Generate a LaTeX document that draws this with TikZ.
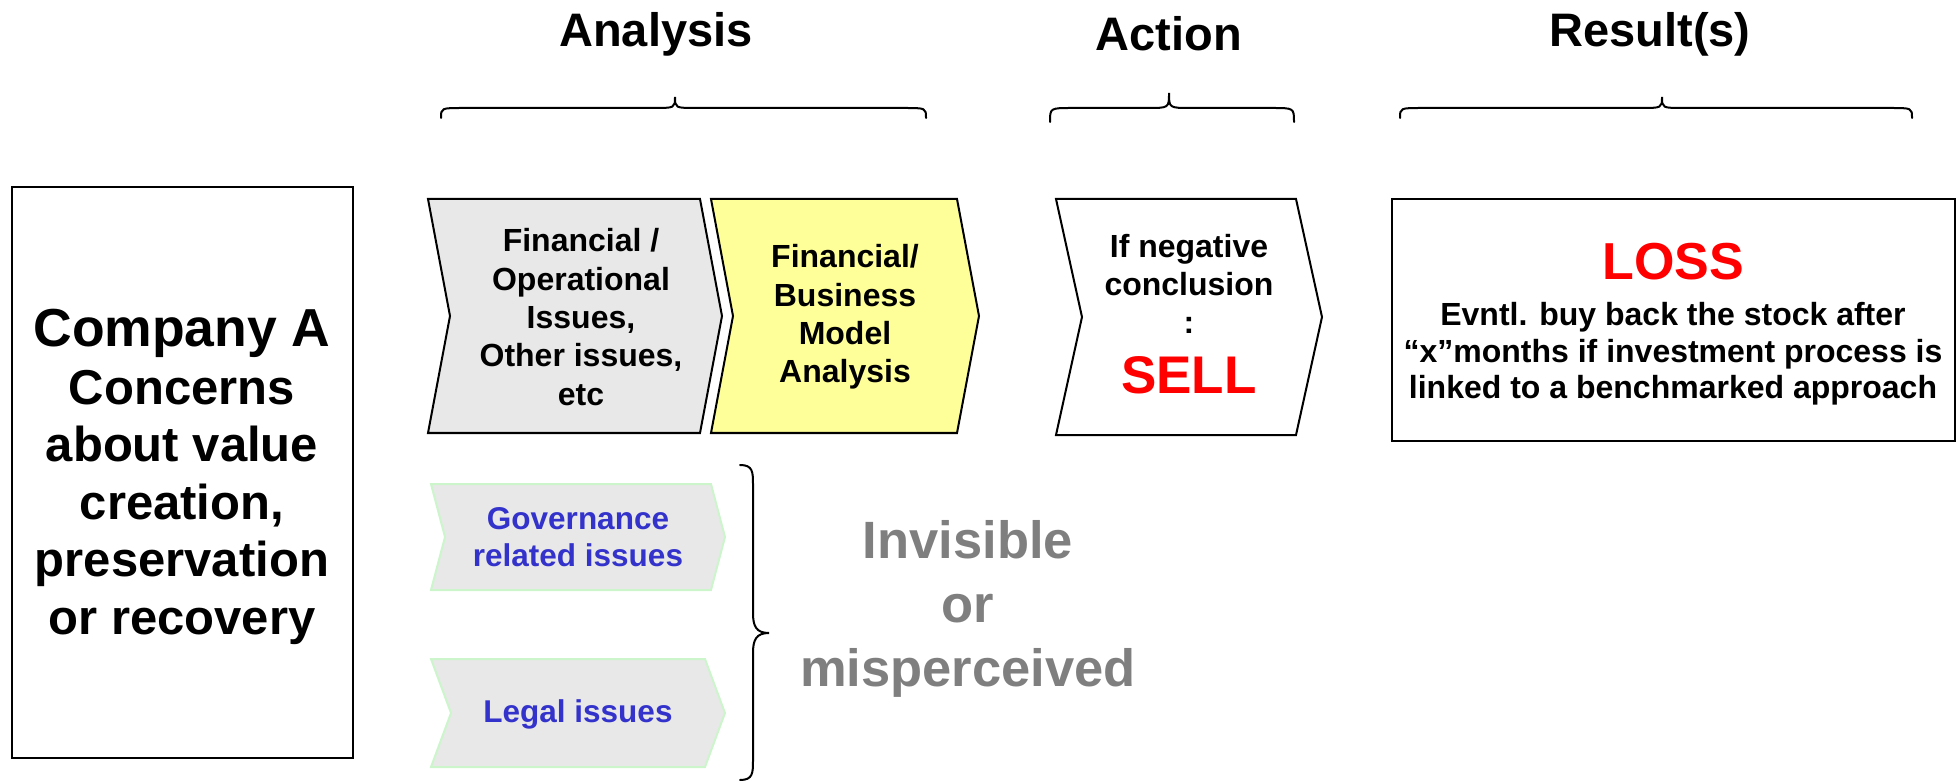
\documentclass[tikz,border=0pt]{standalone}
\usepackage{fontspec}
\setmainfont{Liberation Sans}
\definecolor{chevgray}{HTML}{E8E8E8}
\definecolor{chevyellow}{HTML}{FFFF99}
\definecolor{softgreen}{HTML}{CCF5CC}
\definecolor{issueblue}{HTML}{3333CC}
\definecolor{hiddengray}{HTML}{7F7F7F}
\definecolor{alertred}{HTML}{FF0000}
% chevron: [style]{x left}{x right}{y top}{y bottom}{depth}
\newcommand{\chevshape}[6][]{%
  \draw[#1] (#2,#4) -- ({#3-#6},#4) -- (#3,{(#4+#5)/2}) -- ({#3-#6},#5)
    -- (#2,#5) -- ({#2+#6},{(#4+#5)/2}) -- cycle;}
% horizontal brace, tip upwards: {x1}{xc}{x2}{y tip}{y mid}{y ends}{r}
\newcommand{\hbrace}[7]{%
  \draw[bracestyle] (#1,#6) .. controls (#1,#5) and (#1,#5) .. ({#1+#7},#5)
    -- ({#2-#7},#5) .. controls (#2,#5) and (#2,#5) .. (#2,#4)
    .. controls (#2,#5) and (#2,#5) .. ({#2+#7},#5)
    -- ({#3-#7},#5) .. controls (#3,#5) and (#3,#5) .. (#3,#6);}
\begin{document}
\begin{tikzpicture}[x=1pt,y=-1pt,
  txt/.style={align=center,inner sep=0pt,font=\bfseries\fontsize{32}{38.4}\selectfont},
  issuetxt/.style={align=center,inner sep=0pt,text=issueblue,font=\bfseries\fontsize{31.5}{37.5}\selectfont},
  titletxt/.style={inner sep=0pt,font=\bfseries\fontsize{47}{54}\selectfont},
  frame/.style={draw=black,line width=2pt},
  graychev/.style={draw=black,fill=chevgray,line width=2pt,line join=miter},
  yellowchev/.style={draw=black,fill=chevyellow,line width=2pt,line join=miter},
  whitechev/.style={draw=black,fill=white,line width=2pt,line join=miter},
  softchev/.style={draw=softgreen,fill=chevgray,line width=2pt,line join=miter},
  bracestyle/.style={draw=black,line width=2pt,line cap=round}]
\useasboundingbox (0,0) rectangle (1960,783);

% column titles and their braces
\node[titletxt] (tanalysis) at (656,34) {Analysis};
\node[titletxt] (taction) at (1169,34) {Action};
\node[titletxt] (tresult) at (1650,34) {Result(s)};
\hbrace{441}{675}{926}{97}{108}{118}{22}
\hbrace{1050}{1169}{1294}{93}{108}{122}{22}
\hbrace{1400}{1662}{1912}{97}{108}{118}{22}

% company box
\draw[frame] (12,187) rectangle (353,758);
\node[align=center,inner sep=0pt,font=\bfseries\fontsize{49}{57.5}\selectfont] (company) at (182,477)
  {{\fontsize{53.5}{57.5}\selectfont Company A}\\Concerns\\about value\\creation,\\preservation\\or recovery};

% analysis chevrons
\chevshape[graychev]{428}{722}{199}{433}{22}
\node[txt] (finops) at (581,317) {Financial /\\Operational\\Issues,\\Other issues,\\etc};
\chevshape[yellowchev]{711}{979}{199}{433}{22}
\node[txt] (finbiz) at (845,317) {Financial/\\Business\\Model\\Analysis};

% action chevron
\chevshape[whitechev]{1056}{1322}{199}{435}{26}
\node[txt] (negative) at (1189,284) {If negative\\conclusion\\:};
\node[inner sep=0pt,font=\bfseries\fontsize{53}{60}\selectfont,text=alertred] (sell) at (1189,375) {SELL};

% result box
\draw[frame] (1392,199) rectangle (1955,441);
\node[inner sep=0pt,font=\bfseries\fontsize{52}{60}\selectfont,text=alertred] (loss) at (1673,262) {LOSS};
\node[align=center,inner sep=0pt,font=\bfseries\fontsize{32}{36.5}\selectfont] (buyback) at (1673,354)
  {Evntl. buy back the stock after\\``x''months if investment process is\\linked to a benchmarked approach};

% issues that stay hidden
\chevshape[softchev]{431}{725}{484}{590}{14}
\node[issuetxt] (governance) at (578,537) {Governance\\related issues};
\chevshape[softchev]{431}{725}{659}{767}{20}
\node[issuetxt] (legal) at (578,714) {Legal issues};

% vertical brace gathering the hidden issues
\draw[bracestyle] (740,465) .. controls (753,465) and (753,472) .. (753,485)
  -- (753,613) .. controls (753,626) and (756,633) .. (769,633)
  .. controls (756,633) and (753,640) .. (753,653)
  -- (753,760) .. controls (753,773) and (753,780) .. (740,780);
\node[align=center,inner sep=0pt,text=hiddengray,font=\bfseries\fontsize{52.5}{64}\selectfont] (hidden) at (968,609)
  {Invisible\\or\\misperceived};
\end{tikzpicture}
\end{document}
